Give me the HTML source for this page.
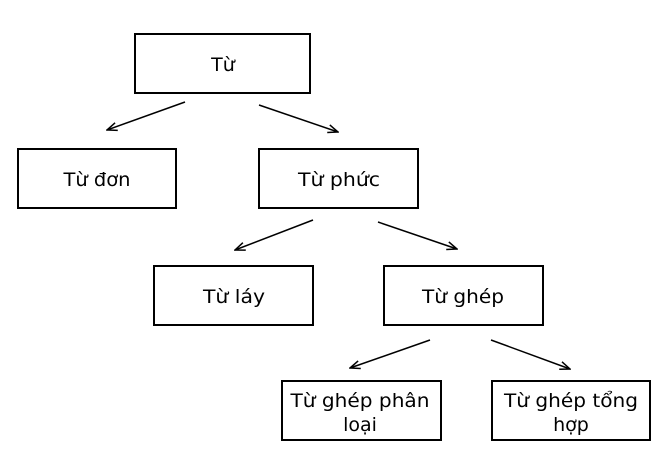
<!DOCTYPE html>
<html><head><meta charset="utf-8"><style>
html,body{margin:0;padding:0;background:#fff;}
svg{display:block;}
</style></head><body>
<svg width="667" height="461" viewBox="0 0 667 461" xmlns="http://www.w3.org/2000/svg">
<defs>
<marker id="a" markerWidth="12" markerHeight="10" refX="11" refY="5" orient="auto" markerUnits="userSpaceOnUse">
<path d="M1,1 L11,5 L1,9" fill="none" stroke="#000" stroke-width="1.5"/>
</marker>
</defs>
<g fill="none" stroke="#000" stroke-width="2">
<rect x="135" y="34" width="175" height="59"/>
<rect x="18" y="149" width="158" height="59"/>
<rect x="259" y="149" width="159" height="59"/>
<rect x="154" y="266" width="159" height="59"/>
<rect x="384" y="266" width="159" height="59"/>
<rect x="282" y="381" width="159" height="59"/>
<rect x="492" y="381" width="158" height="59"/>
</g>
<g stroke="#000" stroke-width="1.5" marker-end="url(#a)">
<line x1="185" y1="102" x2="107" y2="130"/>
<line x1="259" y1="105" x2="338" y2="132"/>
<line x1="313" y1="220" x2="235" y2="250"/>
<line x1="378" y1="222" x2="457" y2="249"/>
<line x1="430" y1="340" x2="350" y2="368"/>
<line x1="491" y1="340" x2="570" y2="369"/>
</g>
<g text-anchor="middle" font-family="DejaVu Sans, Liberation Sans, sans-serif" font-size="19" fill="#000">
<text x="223" y="71" font-size="19">Từ</text>
<text x="97" y="186" font-size="19" textLength="67" lengthAdjust="spacingAndGlyphs">Từ đơn</text>
<text x="339" y="186" font-size="19" textLength="82" lengthAdjust="spacingAndGlyphs">Từ phức</text>
<text x="234" y="303" font-size="19" textLength="62" lengthAdjust="spacingAndGlyphs">Từ láy</text>
<text x="463" y="303" font-size="19" textLength="82" lengthAdjust="spacingAndGlyphs">Từ ghép</text>
<text x="360" y="407" font-size="19" textLength="139" lengthAdjust="spacingAndGlyphs">Từ ghép phân</text>
<text x="360" y="431" font-size="19">loại</text>
<text x="571" y="407" font-size="19" textLength="134" lengthAdjust="spacingAndGlyphs">Từ ghép tổng</text>
<text x="571" y="431" font-size="19">hợp</text>
</g>
</svg>
</body></html>
